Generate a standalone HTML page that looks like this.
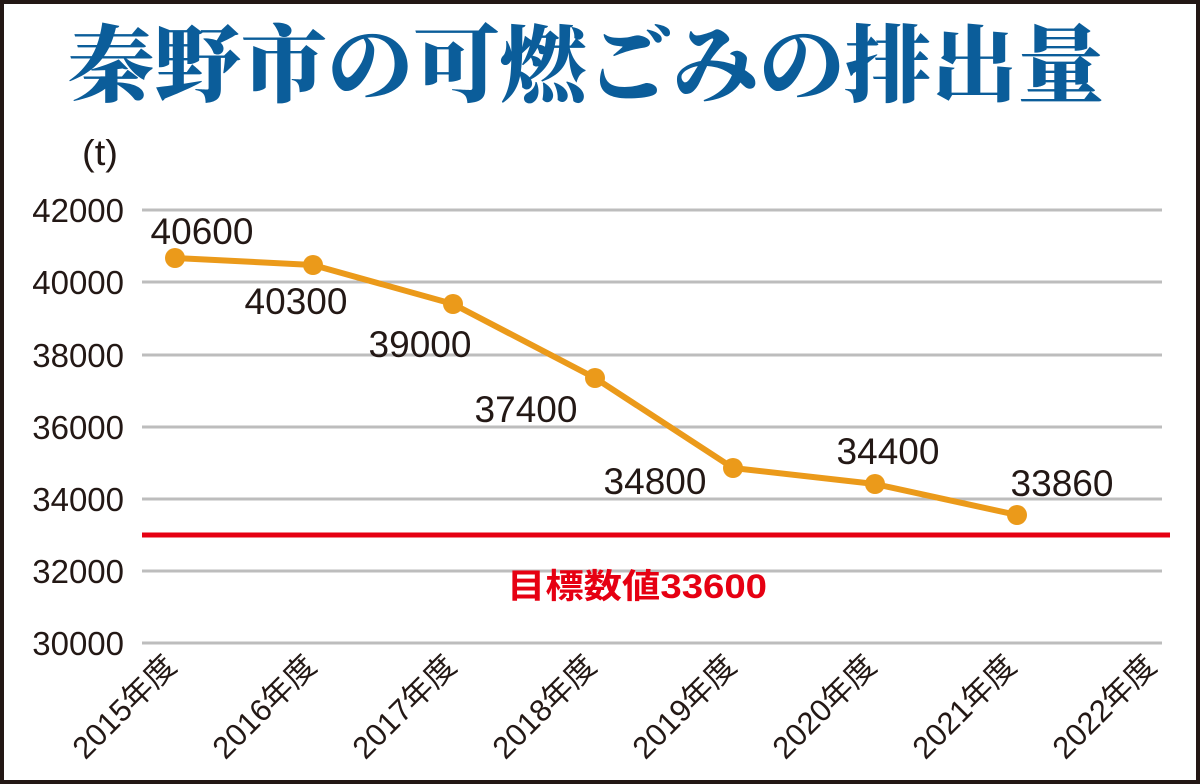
<!DOCTYPE html>
<html><head><meta charset="utf-8"><style>
html,body{margin:0;padding:0;background:#fff}
svg{display:block}
</style></head><body>
<svg width="1200" height="784" viewBox="0 0 1200 784" xmlns="http://www.w3.org/2000/svg">
<rect x="2" y="2" width="1196" height="780" fill="#fff" stroke="#231815" stroke-width="4"/>
<text x="586" y="95" text-anchor="middle" font-family="'Noto Serif CJK SC','Noto Serif CJK JP',serif" font-weight="900" font-size="84" fill="#0b5d9a" textLength="1036" lengthAdjust="spacingAndGlyphs">秦野市の可燃ごみの排出量</text>
<text x="82" y="165" font-family="'Liberation Sans',sans-serif" font-size="36" fill="#231815" textLength="36" lengthAdjust="spacingAndGlyphs">(t)</text>
<g stroke="#bdbdbd" stroke-width="3">
<line x1="142" x2="1162" y1="210" y2="210"/><line x1="142" x2="1162" y1="282" y2="282"/>
<line x1="142" x2="1162" y1="355" y2="355"/><line x1="142" x2="1162" y1="427" y2="427"/>
<line x1="142" x2="1162" y1="499" y2="499"/><line x1="142" x2="1162" y1="571" y2="571"/>
<line x1="142" x2="1162" y1="643" y2="643"/>
</g>
<line x1="142" x2="1170" y1="535" y2="535" stroke="#e60012" stroke-width="5"/>
<g font-family="'Liberation Sans',sans-serif" font-size="33" fill="#231815" text-anchor="end">
<text x="124" y="222">42000</text><text x="124" y="294">40000</text><text x="124" y="367">38000</text>
<text x="124" y="439">36000</text><text x="124" y="511">34000</text><text x="124" y="583">32000</text>
<text x="124" y="655">30000</text>
</g>
<polyline points="175,258 313,265 453,304 595,378 733,468 875,484 1017,515" fill="none" stroke="#eb9a1a" stroke-width="6" stroke-linejoin="round"/>
<g fill="#eb9a1a">
<circle cx="175" cy="258" r="10"/><circle cx="313" cy="265" r="10"/><circle cx="453" cy="304" r="10"/>
<circle cx="595" cy="378" r="10"/><circle cx="733" cy="468" r="10"/><circle cx="875" cy="484" r="10"/>
<circle cx="1017" cy="515" r="10"/>
</g>
<g font-family="'Liberation Sans',sans-serif" font-size="37" fill="#231815" text-anchor="middle">
<text x="202" y="244">40600</text><text x="296" y="314">40300</text><text x="420" y="357">39000</text>
<text x="526" y="422">37400</text><text x="655" y="494">34800</text><text x="888" y="464">34400</text>
<text x="1062" y="496">33860</text>
</g>
<text x="637" y="598" text-anchor="middle" font-family="'Liberation Sans','Noto Sans CJK JP',sans-serif" font-weight="bold" font-size="34" fill="#e60012" textLength="260" lengthAdjust="spacingAndGlyphs">目標数値33600</text>
<g font-family="'Liberation Sans','Noto Sans CJK JP',sans-serif" font-size="31" fill="#231815" text-anchor="end">
<text transform="translate(178,668) rotate(-45)">2015年度</text>
<text transform="translate(318,668) rotate(-45)">2016年度</text>
<text transform="translate(458,668) rotate(-45)">2017年度</text>
<text transform="translate(598,668) rotate(-45)">2018年度</text>
<text transform="translate(738,668) rotate(-45)">2019年度</text>
<text transform="translate(878,668) rotate(-45)">2020年度</text>
<text transform="translate(1018,668) rotate(-45)">2021年度</text>
<text transform="translate(1158,668) rotate(-45)">2022年度</text>
</g>
</svg>
</body></html>
